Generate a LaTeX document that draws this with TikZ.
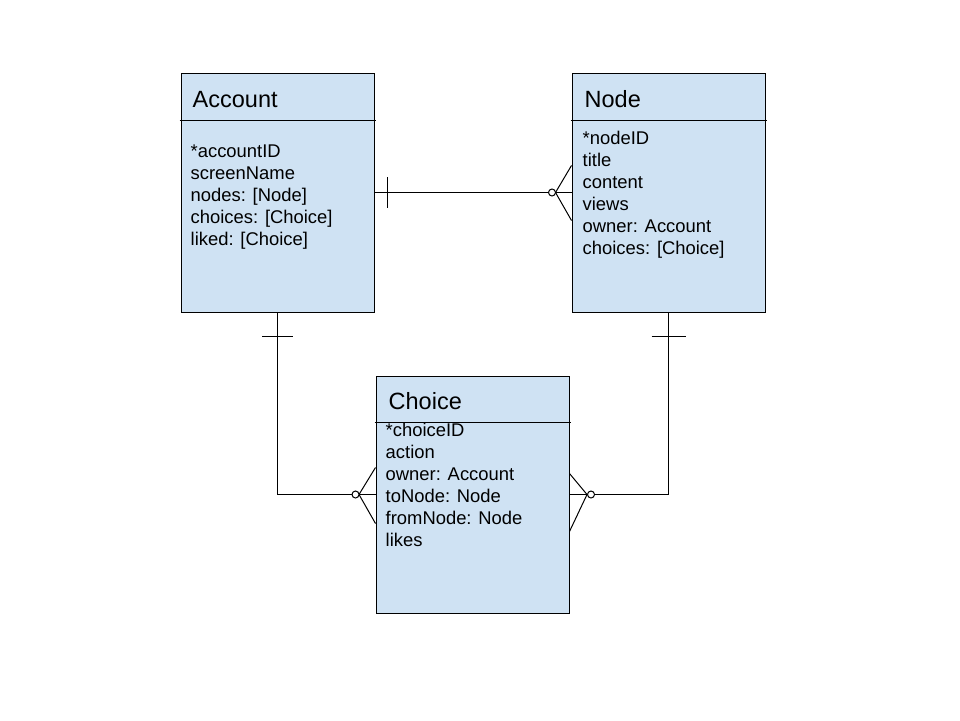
\documentclass[tikz,border=0pt]{standalone}
\usepackage{fontspec}
\setmainfont{Liberation Sans}
\definecolor{boxfill}{HTML}{CFE2F3}
\tikzset{
  entity/.style={draw=black, fill=boxfill, line width=1pt, inner sep=0pt, minimum width=193pt},
  titletext/.style={inner sep=0pt, anchor=base west, font=\fontsize{23.5}{28}\selectfont},
  attrtext/.style={inner sep=0pt, anchor=base west, font=\fontsize{18.4}{22}\selectfont},
  divider/.style={line width=1pt},
  conn/.style={line width=1pt},
  ringend/.style={line width=1pt, fill=white}
}
\begin{document}
\begin{tikzpicture}[x=1pt,y=-1pt]
\useasboundingbox[fill=white] (0,0) rectangle (960,720);
% entities
\node[entity, minimum height=239pt] (acc) at (277.5,192.5) {};
\node[entity, minimum height=239pt] (nod) at (668.5,192.5) {};
\node[entity, minimum height=237pt] (cho) at (472.5,494.5) {};
% header dividers
\draw[divider] ([shift={(-1,47.5)}]acc.north west) -- ([shift={(1,47.5)}]acc.north east);
\draw[divider] ([shift={(-1,47.5)}]nod.north west) -- ([shift={(1,47.5)}]nod.north east);
\draw[divider] ([shift={(-1,46.5)}]cho.north west) -- ([shift={(1,46.5)}]cho.north east);
% titles
\node[titletext] (acc-t) at ([shift={(12,35)}]acc.north west) {Account};
\node[titletext] (nod-t) at ([shift={(13,35)}]nod.north west) {Node};
\node[titletext] (cho-t) at ([shift={(13,33.5)}]cho.north west) {Choice};
% attributes
\foreach \t [count=\i] in {*accountID, screenName, {nodes: [Node]}, {choices: [Choice]}, {liked: [Choice]}}
  \node[attrtext] (acc-\i) at ([shift={(10,{84.5+22*(\i-1)})}]acc.north west) {\t};
\foreach \t [count=\i] in {*nodeID, title, content, views, {owner: Account}, {choices: [Choice]}}
  \node[attrtext] (nod-\i) at ([shift={(11,{72+22*(\i-1)})}]nod.north west) {\t};
\foreach \t [count=\i] in {*choiceID, action, {owner: Account}, {toNode: Node}, {fromNode: Node}, likes}
  \node[attrtext] (cho-\i) at ([shift={(10,{60.5+22*(\i-1)})}]cho.north west) {\t};
% connectors
\draw[conn] (acc.east) -- (nod.west);
\draw[conn] (acc.south) |- (cho.west);
\draw[conn] (nod.south) |- (cho.east);
% one bars
\draw[conn] ([shift={(13,-15.5)}]acc.east) -- ([shift={(13,15.5)}]acc.east);
\draw[conn] ([shift={(-15.5,24)}]acc.south) -- ([shift={(15.5,24)}]acc.south);
\draw[conn] ([shift={(-17,24)}]nod.south) -- ([shift={(17,24)}]nod.south);
% many forks with rings
\draw[conn] ([shift={(0,-27)}]nod.west) -- ([shift={(-16,0)}]nod.west) -- ([shift={(0,28)}]nod.west);
\draw[ringend] ([shift={(-19.5,0)}]nod.west) circle[radius=3.5];
\draw[conn] ([shift={(0,-27)}]cho.west) -- ([shift={(-16.5,0)}]cho.west) -- ([shift={(0,29)}]cho.west);
\draw[ringend] ([shift={(-20,0)}]cho.west) circle[radius=3.5];
\draw[conn] ([shift={(0,-21)}]cho.east) -- ([shift={(17.5,0)}]cho.east) -- ([shift={(0,37)}]cho.east);
\draw[ringend] ([shift={(21.5,0)}]cho.east) circle[radius=3.5];
\end{tikzpicture}
\end{document}
